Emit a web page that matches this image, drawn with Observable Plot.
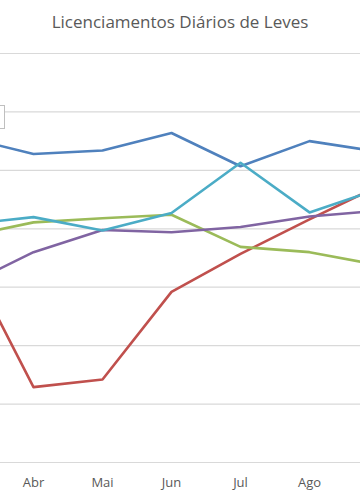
<!DOCTYPE html>
<html>
<head>
<meta charset="utf-8">
<script src="https://cdn.jsdelivr.net/npm/d3@7"></script>
<script src="https://cdn.jsdelivr.net/npm/@observablehq/plot@0.6"></script>
<style>
  html, body { margin: 0; padding: 0; background: #fff; }
  #wrap { position: relative; width: 360px; height: 504px; overflow: hidden; font-family: "Open Sans", sans-serif; }
  #title { height: 44px; line-height: 44px; text-align: center; font-size: 17px; color: #595959; }
  #legendFrag { position: absolute; left: -2px; top: 105px; width: 5px; height: 22px; border: 1px solid #bfbfbf; background: #fff; z-index: 2; }
  #chart svg { display: block; }
</style>
</head>
<body>
<div id="wrap">
  <div id="title">Licenciamentos Diários de Leves</div>
  <div id="legendFrag"></div>
  <div id="chart"></div>
</div>
<script>
const months = ["Mar", "Abr", "Mai", "Jun", "Jul", "Ago", "Set"];
const visibleMonths = ["Abr", "Mai", "Jun", "Jul", "Ago"];
const seriesNames = ["A", "B", "C", "D", "E"];
const seriesColors = ["#4F81BD", "#C0504D", "#9BBB59", "#8064A2", "#4BACC6"];
const valuesA = [557, 528, 534, 564, 507, 550, 532];
const valuesB = [359, 129, 142, 292, 357, 416, 473];
const valuesC = [386, 411, 418, 424, 369, 360, 338];
const valuesD = [302, 360, 398, 394, 403, 421, 431];
const valuesE = [407, 420, 397, 427, 513, 428, 468];
const gridValues = [0, 100, 200, 300, 400, 500, 600, 700];

const allValues = [valuesA, valuesB, valuesC, valuesD, valuesE];
const data = [];
seriesNames.forEach((s, i) => {
  months.forEach((m, j) => data.push({series: s, month: m, value: allValues[i][j]}));
});

const chart = Plot.plot({
  width: 360,
  height: 460,
  marginLeft: 0,
  marginRight: 0,
  marginTop: 9,
  marginBottom: 42,
  style: {fontFamily: "'Open Sans', sans-serif", fontSize: "13px", color: "#595959", background: "#fff"},
  x: {type: "point", domain: months, range: [-38.75, 379.75], padding: 0, ticks: visibleMonths, tickSize: 0, tickPadding: 15, label: null},
  y: {domain: [0, 700], axis: null},
  color: {domain: seriesNames, range: seriesColors},
  marks: [
    Plot.ruleY(gridValues, {stroke: "#d9d9d9", strokeWidth: 1.2}),
    Plot.line(data, {x: "month", y: "value", z: "series", stroke: "series", strokeWidth: 2.6, clip: true, strokeLinejoin: "round"})
  ]
});
document.getElementById("chart").appendChild(chart);
</script>
</body>
</html>
